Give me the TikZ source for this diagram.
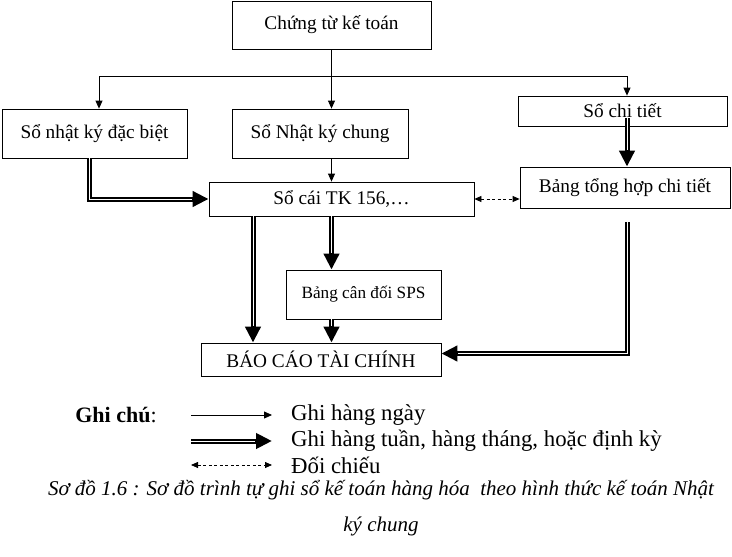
\documentclass[tikz,border=0pt]{standalone}
\usepackage{fontspec}
\setmainfont{Liberation Serif}
\usetikzlibrary{positioning, arrows.meta}

\begin{document}
\begin{tikzpicture}[x=1pt, y=-1pt,
        box/.style={draw, line width=0.8pt, inner sep=0pt, text centered,
          font=\fontsize{19.3}{23}\selectfont},
        daily/.style={line width=0.8pt, -{Triangle[length=8pt,width=7pt]}},
        periodic/.style={line width=5pt, -{Triangle[length=16pt,width=15pt]},
          postaction={draw=white, line width=1pt, -, shorten >=17pt}},
        crosscheck/.style={line width=0.8pt, dash pattern=on 3pt off 2.5pt,
          {Triangle[length=7pt,width=6pt]}-{Triangle[length=7pt,width=6pt]}},
        legend/.style={anchor=west, inner sep=0pt, font=\fontsize{22.8}{25}\selectfont}]
      \useasboundingbox (0,0) rectangle (732,557);
      % Flow diagram
      \node[box, minimum width=199pt, minimum height=48pt] (chungtu) at (331.5,25) {Chứng từ kế toán};
      \node[box, minimum width=185pt, minimum height=49pt] (nkdacbiet) at (94.5,133.5) {Sổ nhật ký đặc biệt};
      \node[box, minimum width=176pt, minimum height=49pt] (nkchung) at (320,133.5) {Sổ Nhật ký chung};
      \node[box, minimum width=209pt, minimum height=30pt] (sochitiet) at (622.5,111) {Sổ chi tiết};
      \node[box, minimum width=210pt, minimum height=41pt] (tonghop) at (625,187.5) {Bảng tổng hợp chi tiết};
      \node[box, minimum width=265pt, minimum height=34pt] (socai) at (341.5,199) {Sổ cái TK 156,…};
      \node[box, minimum width=155pt, minimum height=49pt, font=\fontsize{17.2}{20}\selectfont] (candoi) at (363.5,294.5) {Bảng cân đối SPS};
      \node[box, minimum width=240pt, minimum height=33pt] (baocao) at (321,359.5) {BÁO CÁO TÀI CHÍNH};

      \coordinate (bus) at (0,76);
      \coordinate (leftcol) at (253,0);
      \coordinate (rightcol) at (627,0);
      \coordinate (chitietin) at (627,118);
      \coordinate (tonghopout) at (627,222);

      \draw[line width=0.8pt] (chungtu.south) -- (chungtu.south |- bus);
      \draw[daily] (chungtu.south |- bus) -| ([xshift=4.5pt]nkdacbiet.north);
      \draw[daily] (chungtu.south |- bus) -| (rightcol |- sochitiet.north);
      \draw[daily] (chungtu.south |- bus) -- (chungtu.south |- nkchung.north);
      \draw[daily] (chungtu.south |- nkchung.south) -- (chungtu.south |- socai.north);

      \draw[periodic] ([xshift=-5.5pt]nkdacbiet.south) |- (socai.west);
      \draw[periodic] (chitietin) -- (rightcol |- tonghop.north);
      \draw[periodic] (leftcol |- socai.south) -- (leftcol |- baocao.north);
      \draw[periodic] (chungtu.south |- socai.south) -- (chungtu.south |- candoi.north);
      \draw[periodic] (chungtu.south |- candoi.south) -- (chungtu.south |- baocao.north);
      \draw[periodic] (tonghopout) |- ([yshift=6pt]baocao.east);
      \draw[crosscheck] (socai.east) -- (socai.east -| tonghop.west);

      % Legend
      \node[font=\fontsize{22}{24}\selectfont] (ghichu) at (116,415) {\textbf{Ghi chú}:};
      \node[legend] (hangngay) at (291,415) {Ghi hàng ngày};
      \node[legend] (dinhky) at (291,441) {Ghi hàng tuần, hàng tháng, hoặc định kỳ};
      \node[legend] (doichieu) at (291,465) {Đối chiếu};
      \coordinate (k1) at (191,415);
      \coordinate (k2) at (191,441);
      \coordinate (k3) at (191,465);
      \draw[daily] (k1) -- ([xshift=-19pt]hangngay.west);
      \draw[periodic] (k2) -- ([xshift=-19pt]dinhky.west);
      \draw[crosscheck] (k3) -- ([xshift=-19pt]doichieu.west);

      \node[font=\itshape\fontsize{21}{24}\selectfont] (caption) at (381,490)
        {Sơ đồ 1.6 : Sơ đồ trình tự ghi sổ kế toán hàng hóa\ \ theo hình thức kế toán Nhật};
      \node[font=\itshape\fontsize{21}{24}\selectfont] (caption2) at (381,526) {ký chung};
    \end{tikzpicture}
\end{document}
